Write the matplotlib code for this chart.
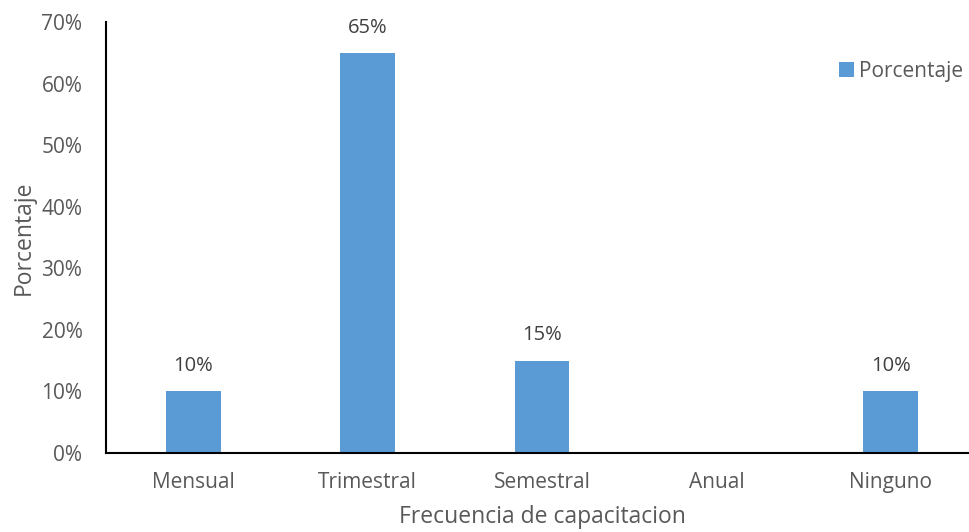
import matplotlib
matplotlib.use("Agg")
import matplotlib.pyplot as plt
from matplotlib.ticker import PercentFormatter

# Datos de la frecuencia de capacitacion
categorias = ["Mensual", "Trimestral", "Semestral", "Anual", "Ninguno"]
porcentajes = [10, 65, 15, 0, 10]
ticks_y = [0, 10, 20, 30, 40, 50, 60, 70]

azul = "#5B9BD5"
gris = "#595959"

plt.rcParams["font.family"] = ["Open Sans", "DejaVu Sans"]

fig = plt.figure(figsize=(9.69, 5.32), dpi=100)
ax = fig.add_axes([106 / 969, 1 - 453 / 532, 872 / 969, 431 / 532])

x = range(len(categorias))
ax.bar(x, porcentajes, width=0.315, color=azul, label="Porcentaje")

# Etiquetas de valor sobre las barras (sin etiqueta para valores cero)
for xi, v in zip(x, porcentajes):
    if v > 0:
        ax.annotate(f"{v}%", (xi, v), xytext=(0, 11), textcoords="offset points",
                    ha="center", va="bottom", fontsize=14.5, color="#404040")

ax.set_xlim(-0.5, len(categorias) - 0.5)
ax.set_ylim(0, 70)
ax.set_yticks(ticks_y)
ax.yaxis.set_major_formatter(PercentFormatter(decimals=0))
ax.set_xticks(list(x))
ax.set_xticklabels(categorias)
ax.tick_params(axis="both", length=0, labelsize=15, colors=gris)
ax.tick_params(axis="x", pad=14)
ax.tick_params(axis="y", pad=17)

for lado in ["top", "right"]:
    ax.spines[lado].set_visible(False)
for lado in ["left", "bottom"]:
    ax.spines[lado].set_linewidth(1.5)
    ax.spines[lado].set_color("black")

ax.set_xlabel("Frecuencia de capacitacion", fontsize=16.5, color=gris, labelpad=8)
ax.set_ylabel("Porcentaje", fontsize=16.5, color=gris, labelpad=4)

ax.legend(loc="center right", bbox_to_anchor=(1.009, 1 - 71 / 532),
          bbox_transform=fig.transFigure, frameon=False, fontsize=15,
          handlelength=0.7, handleheight=0.7, handletextpad=0.25,
          borderpad=0.2, labelcolor=gris)

fig.savefig("out.png", dpi=100)
